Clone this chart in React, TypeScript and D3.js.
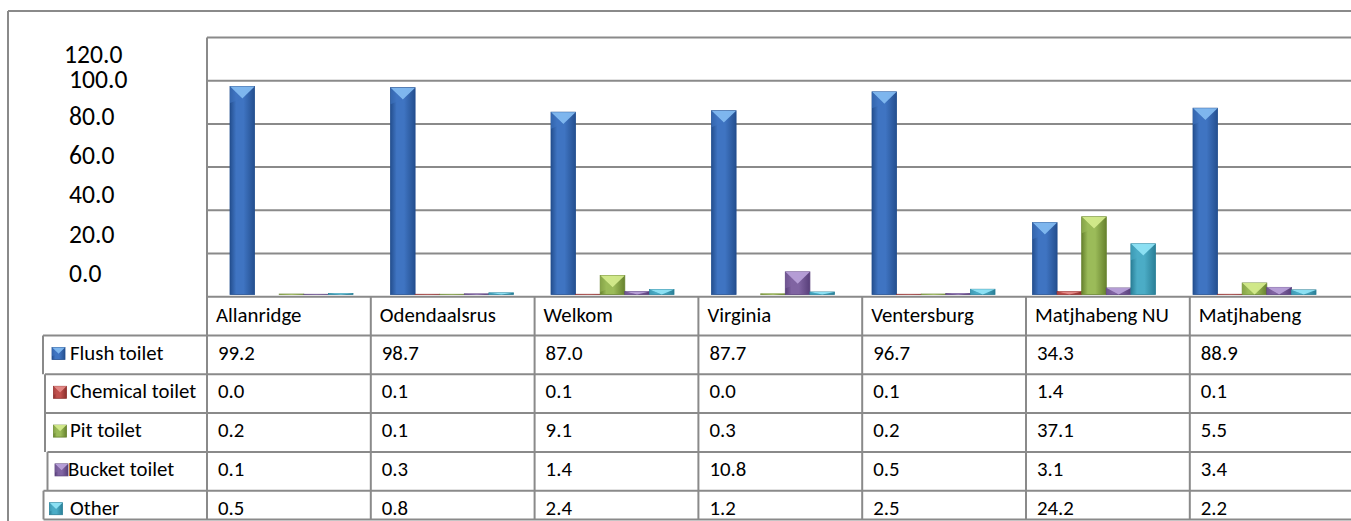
import React from "react";
import * as d3 from "d3";

const towns = ["Allanridge", "Odendaalsrus", "Welkom", "Virginia", "Ventersburg", "Matjhabeng NU", "Matjhabeng"];
const seriesNames = ["Flush toilet", "Chemical toilet", "Pit toilet", "Bucket toilet", "Other"];
const flushToilet = [99.2, 98.7, 87.0, 87.7, 96.7, 34.3, 88.9];
const chemicalToilet = [0.0, 0.1, 0.1, 0.0, 0.1, 1.4, 0.1];
const pitToilet = [0.2, 0.1, 9.1, 0.3, 0.2, 37.1, 5.5];
const bucketToilet = [0.1, 0.3, 1.4, 10.8, 0.5, 3.1, 3.4];
const otherToilet = [0.5, 0.8, 2.4, 1.2, 2.5, 24.2, 2.2];
const yTicks = [0, 20, 40, 60, 80, 100, 120];

const seriesValues = [flushToilet, chemicalToilet, pitToilet, bucketToilet, otherToilet];

const palette = [
  { base: "#3f74c2", dark: "#244f8f", light: "#82b9f0" },
  { base: "#c0504d", dark: "#8a2f2d", light: "#e48a88" },
  { base: "#9bbb59", dark: "#67822e", light: "#d3ea8c" },
  { base: "#8064a2", dark: "#583f7a", light: "#b7a0d8" },
  { base: "#4bacc6", dark: "#2a7f97", light: "#8fe3f6" },
];

const W = 1351;
const H = 521;
const plotLeft = 207;
const plotTop = 37.5;
const gridBottom = 296.7;
const lineColor = "#8a8a8a";
const font = "Carlito, Calibri, 'Liberation Sans', Arial, sans-serif";
const tableFont = 20.8;
const axisFont = 25.6;

function Bevel({ x, y, w, h, i }: { x: number; y: number; w: number; h: number; i: number }) {
  if (h <= 0) return null;
  const c = palette[i];
  const b = Math.min(h, w * 0.48);
  return (
    <g>
      <rect x={x} y={y} width={w} height={h} fill={`url(#grad${i})`} stroke={c.dark} strokeWidth={0.8} />
      <polygon points={`${x},${y} ${x + w},${y} ${x + w / 2},${y + b}`} fill={c.light} opacity={0.95} />
      <polygon points={`${x},${y} ${x + w / 2},${y + b} ${x},${y + Math.min(h, b * 1.4)}`} fill={c.base} opacity={0.6} />
    </g>
  );
}

export default function App() {
  const yGrid = d3.scaleLinear().domain([0, 120]).range([gridBottom, plotTop]);
  const yBar = d3.scaleLinear().domain([0, 120]).range([294.5, 43]);
  const yLabel = d3.scaleLinear().domain([0, 80, 100, 120]).range([281.7, 125, 87.7, 63]);

  const x0 = d3.scaleBand().domain(towns).range([211, 211 + 7 * 160.5]).padding(0);
  const x1 = d3.scaleBand().domain(seriesNames).range([19, 19 + 123]).padding(0);

  const colScale = d3.scaleBand().domain(towns).range([plotLeft, plotLeft + 7 * 163.8]).padding(0);
  const rowNames = ["header", ...seriesNames];
  const rowScale = d3.scaleBand().domain(rowNames).range([gridBottom, gridBottom + 6 * 38.8]).padding(0);
  const tableBottom = 519.4;
  const legendLeft = [43, 45, 45, 47.5, 43.5];
  const markerX = [52, 53.5, 53.5, 55, 49.5];

  const rowBottom = (r: string) => Math.min((rowScale(r) as number) + rowScale.bandwidth(), tableBottom);

  return (
    <svg width={W} height={H} style={{ position: "absolute", left: 0, top: 0, display: "block", background: "#fff" }}>
      <defs>
        {palette.map((c, i) => (
          <linearGradient key={i} id={`grad${i}`} x1="0" x2="1" y1="0" y2="0">
            <stop offset="0" stopColor={c.dark} />
            <stop offset="0.25" stopColor={c.base} />
            <stop offset="0.55" stopColor={c.base} />
            <stop offset="1" stopColor={c.dark} />
          </linearGradient>
        ))}
      </defs>

      {/* outer frame */}
      <line x1={8} y1={11} x2={W} y2={11} stroke={lineColor} strokeWidth={2} />
      <line x1={8} y1={11} x2={8} y2={H} stroke={lineColor} strokeWidth={2} />

      {/* gridlines */}
      {yTicks.filter((t) => t > 0).map((t) => (
        <line key={t} x1={plotLeft} x2={W} y1={yGrid(t)} y2={yGrid(t)} stroke={lineColor} strokeWidth={2} />
      ))}

      {/* y labels */}
      {yTicks.map((t) => (
        <text key={t} x={t === 120 ? 64 : 69} y={yLabel(t)} fontFamily={font} fontSize={axisFont} fill="#000">
          {t.toFixed(1)}
        </text>
      ))}

      {/* bars */}
      {towns.map((town, ti) =>
        seriesNames.map((s, si) => {
          const v = seriesValues[si][ti];
          const x = (x0(town) as number) + (x1(s) as number);
          const top = yBar(v);
          return <Bevel key={town + s} x={x} y={top} w={x1.bandwidth()} h={yBar(0) - top} i={si} />;
        })
      )}

      {/* table horizontal lines */}
      <line x1={plotLeft} x2={W} y1={gridBottom} y2={gridBottom} stroke={lineColor} strokeWidth={2} />
      {seriesNames.map((s, si) => (
        <line key={s} x1={legendLeft[si]} x2={W} y1={rowScale(s)} y2={rowScale(s)} stroke={lineColor} strokeWidth={2} />
      ))}
      <line x1={legendLeft[4]} x2={W} y1={tableBottom} y2={tableBottom} stroke={lineColor} strokeWidth={2} />

      {/* vertical lines */}
      <line x1={plotLeft} x2={plotLeft} y1={plotTop} y2={tableBottom} stroke={lineColor} strokeWidth={2} />
      {towns.slice(1).map((t) => (
        <line key={t} x1={colScale(t)} x2={colScale(t)} y1={gridBottom} y2={tableBottom} stroke={lineColor} strokeWidth={2} />
      ))}
      {seriesNames.map((s, si) => (
        <line key={s} x1={legendLeft[si]} x2={legendLeft[si]} y1={rowScale(s)} y2={rowBottom(s)} stroke={lineColor} strokeWidth={2} />
      ))}

      {/* header */}
      {towns.map((t) => (
        <text key={t} x={(colScale(t) as number) + 9} y={(rowScale("header") as number) + 25} fontFamily={font} fontSize={tableFont} fill="#000">
          {t}
        </text>
      ))}

      {/* rows */}
      {seriesNames.map((s, si) => {
        const top = rowScale(s) as number;
        const mx = markerX[si];
        const my = top + 12;
        return (
          <g key={s}>
            <Bevel x={mx} y={my} w={13} h={12} i={si} />
            <text x={si === 3 ? 68 : 70} y={top + 24} fontFamily={font} fontSize={tableFont} fill="#000">
              {s}
            </text>
            {towns.map((t, ti) => (
              <text key={t} x={(colScale(t) as number) + 11} y={top + 24} fontFamily={font} fontSize={tableFont} fill="#000">
                {seriesValues[si][ti].toFixed(1)}
              </text>
            ))}
          </g>
        );
      })}
    </svg>
  );
}
